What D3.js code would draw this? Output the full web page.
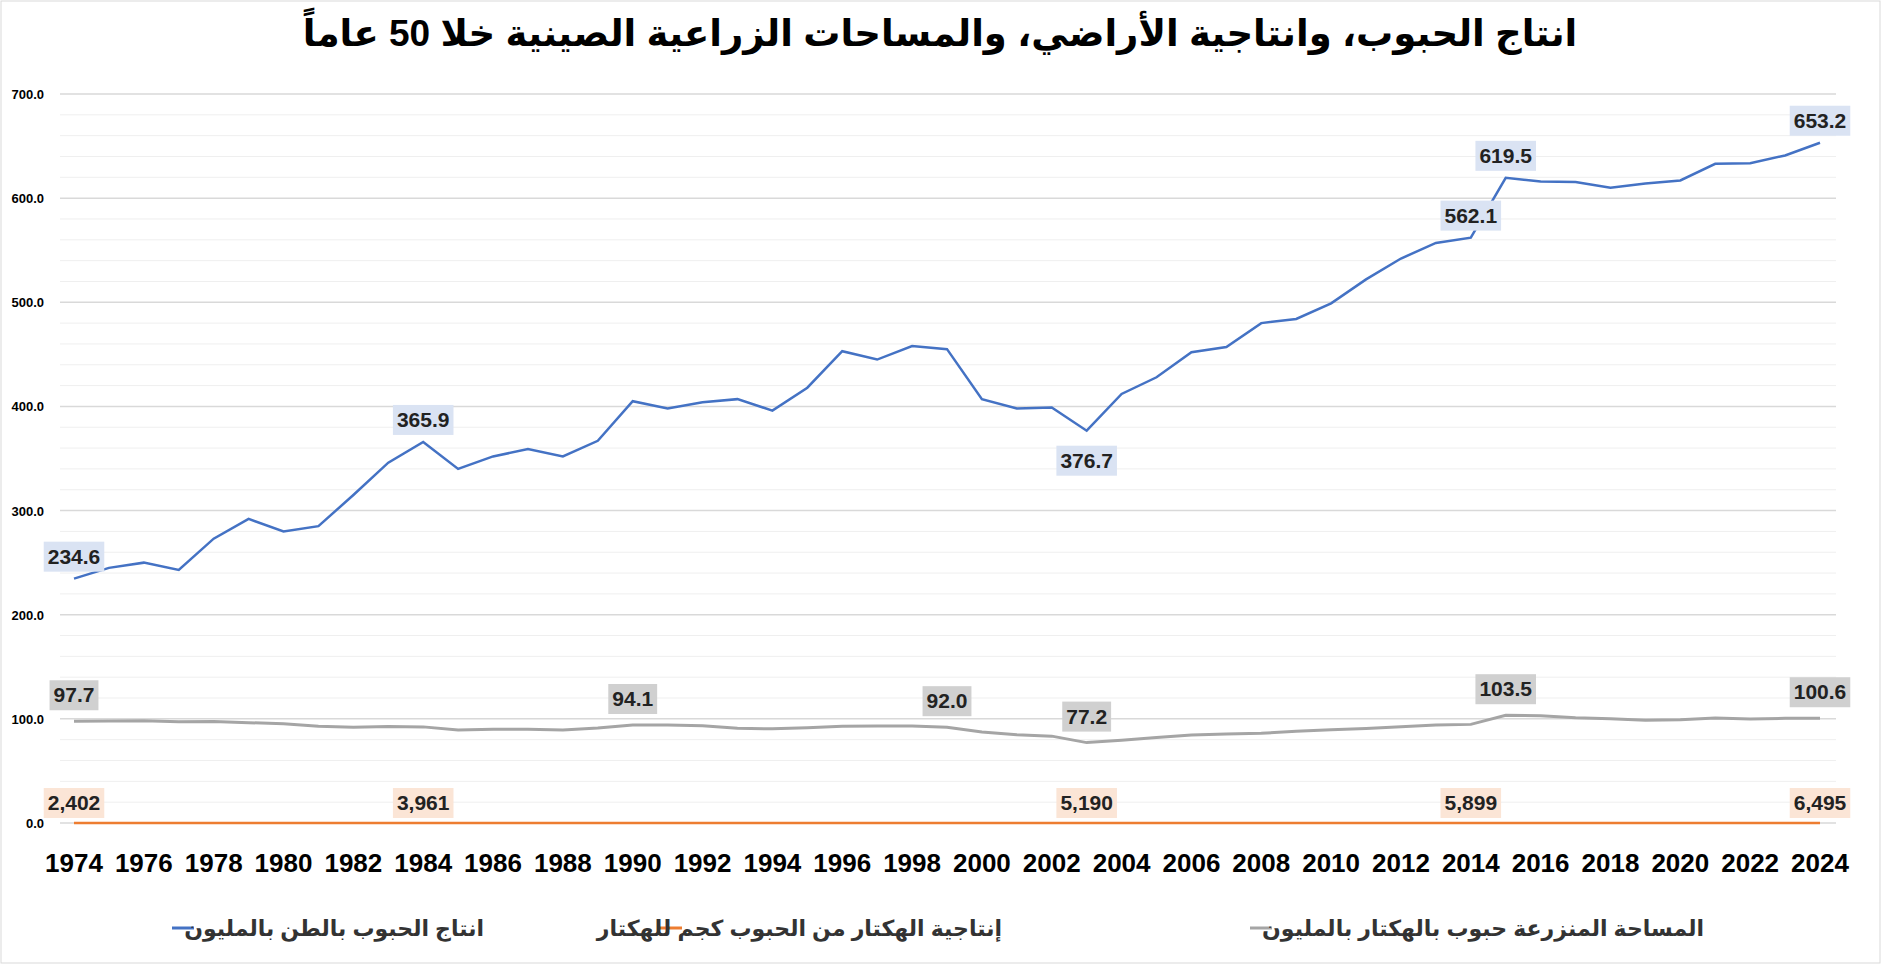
<!DOCTYPE html>
<html>
<head>
<meta charset="utf-8">
<script src="https://d3js.org/d3.v7.min.js"></script>
<style>
  body { margin: 0; background: #fff; }
  text { font-family: "Liberation Sans", "DejaVu Sans", sans-serif; }
</style>
</head>
<body>
<svg id="chart" width="1881" height="964"></svg>
<script>
var years = d3.range(1974, 2025);
var production = [234.6, 245, 250, 243, 273, 292, 280, 285, 315, 346, 365.9, 340, 352, 359, 352, 367,
  405, 398, 404, 407, 396, 418, 453, 445, 458, 455, 407, 398, 399, 376.7, 412, 428, 452, 457, 480,
  484, 499, 522, 542, 557, 562.1, 619.5, 616, 615.6, 610, 614, 617, 633, 633.5, 641, 653.2];
var area = [97.7, 98, 98.3, 97.2, 97.5, 96.3, 95.4, 93, 92, 92.6, 92.3, 89.3, 90.1, 90, 89.3, 91.2,
  94.1, 94.2, 93.4, 91, 90.4, 91.4, 93, 93.1, 93.2, 92.0, 87.4, 84.8, 83.4, 77.2, 79.5, 82.2, 84.6, 85.5, 86.1,
  88.1, 89.5, 90.7, 92.5, 94, 94.7, 103.5, 102.9, 101, 100.2, 98.6, 99.1, 100.8, 99.8, 100.5, 100.6];
var yieldKg = [2402, 2500, 2550, 2520, 2810, 3060, 2960, 3090, 3460, 3760, 3961, 3830, 3930, 4010, 3970, 4050,
  4300, 4250, 4370, 4580, 4480, 4660, 4900, 4810, 4950, 4950, 4750, 4800, 4890, 5190, 5160, 5230, 5320, 5320, 5550,
  5470, 5560, 5740, 5860, 5930, 5899, 5990, 6010, 6110, 6120, 6270, 6300, 6330, 6390, 6420, 6495];
var yTicks = [0, 100, 200, 300, 400, 500, 600, 700];
var xTicks = d3.range(1974, 2025, 2);

var prodLabels = {1974: "up", 1984: "up", 2003: "down", 2014: "up", 2015: "up", 2024: "up"};
var areaLabels = [1974, 1990, 1999, 2003, 2015, 2024];
var yieldLabels = [1974, 1984, 2003, 2014, 2024];

var titleText = "انتاج الحبوب، وانتاجية الأراضي، والمساحات الزراعية الصينية خلا 50 عاماً";
var legendNames = ["انتاج الحبوب بالطن بالمليون", "إنتاجية الهكتار من الحبوب كجم للهكتار", "المساحة المنزرعة حبوب بالهكتار بالمليون"];
var colors = ["#4472c4", "#ed7d31", "#a5a5a5"];

var svg = d3.select("#chart");
var x = d3.scaleLinear().domain([1974, 2024]).range([74, 1820]);
var y = d3.scaleLinear().domain([0, 700]).range([823, 94]);

svg.append("rect").attr("x", 1).attr("y", 1).attr("width", 1879).attr("height", 962)
  .attr("fill", "none").attr("stroke", "#d9d9d9");

svg.append("text").attr("x", 940).attr("y", 46).attr("text-anchor", "middle")
  .attr("direction", "rtl").style("font-size", "37px").style("font-weight", "bold").text(titleText);

// gridlines
svg.append("g").selectAll("line").data(d3.range(0, 701, 20)).join("line")
  .attr("x1", 60).attr("x2", 1836)
  .attr("y1", function(d) { return y(d); }).attr("y2", function(d) { return y(d); })
  .attr("stroke", function(d) { return d % 100 === 0 ? "#d9d9d9" : "#efefef"; })
  .attr("stroke-width", function(d) { return d % 100 === 0 ? 1.5 : 1; });

svg.append("g").selectAll("text").data(yTicks).join("text")
  .attr("x", 44).attr("y", function(d) { return y(d) + 5; }).attr("text-anchor", "end")
  .style("font-size", "13px").style("font-weight", "bold").text(function(d) { return d.toFixed(1); });

svg.append("g").selectAll("text").data(xTicks).join("text")
  .attr("x", function(d) { return x(d); }).attr("y", 872).attr("text-anchor", "middle")
  .style("font-size", "26px").style("font-weight", "bold").text(function(d) { return d; });

var line = d3.line().x(function(d, i) { return x(years[i]); });
svg.append("path").datum(area).attr("fill", "none").attr("stroke", colors[2]).attr("stroke-width", 3)
  .attr("d", line.y(function(d) { return y(d); }));
svg.append("path").datum(production).attr("fill", "none").attr("stroke", colors[0]).attr("stroke-width", 2.5)
  .attr("d", line.y(function(d) { return y(d); }));
// yield scaled down so it hugs the zero line, as in the source chart
svg.append("path").datum(yieldKg).attr("fill", "none").attr("stroke", colors[1]).attr("stroke-width", 2.5)
  .attr("d", line.y(function(d) { return y(d / 100000); }));

function label(cx, cy, txt, bg) {
  var g = svg.append("g");
  var t = g.append("text").attr("x", cx).attr("y", cy + 7).attr("text-anchor", "middle")
    .style("font-size", "21px").style("font-weight", "bold").attr("fill", "#222").text(txt);
  var w = t.node().getComputedTextLength();
  g.insert("rect", "text").attr("x", cx - w / 2 - 4).attr("y", cy - 15).attr("width", w + 8).attr("height", 30)
    .attr("fill", bg);
}
Object.keys(prodLabels).forEach(function(k) {
  var yr = +k, v = production[yr - 1974], pos = prodLabels[k];
  var dy = pos === "down" ? 30 : -22;
  label(x(yr), y(v) + dy, v.toFixed(1), "#dae3f3");
});
areaLabels.forEach(function(yr) {
  var v = area[yr - 1974];
  label(x(yr), y(v) - 26, v.toFixed(1), "#d0d0d0");
});
yieldLabels.forEach(function(yr) {
  var v = yieldKg[yr - 1974];
  label(x(yr), 803, d3.format(",")(v), "#fbe5d6");
});

// legend
var legendPos = [[172, 484], [660, 1002], [1250, 1704]];
legendPos.forEach(function(p, i) {
  svg.append("line").attr("x1", p[0]).attr("x2", p[0] + 22).attr("y1", 928).attr("y2", 928)
    .attr("stroke", colors[i]).attr("stroke-width", 3);
  svg.append("text").attr("x", p[1]).attr("y", 936).attr("text-anchor", "start").attr("direction", "rtl")
    .style("font-size", "22px").style("font-weight", "bold").attr("fill", "#333").text(legendNames[i]);
});
</script>
</body>
</html>
